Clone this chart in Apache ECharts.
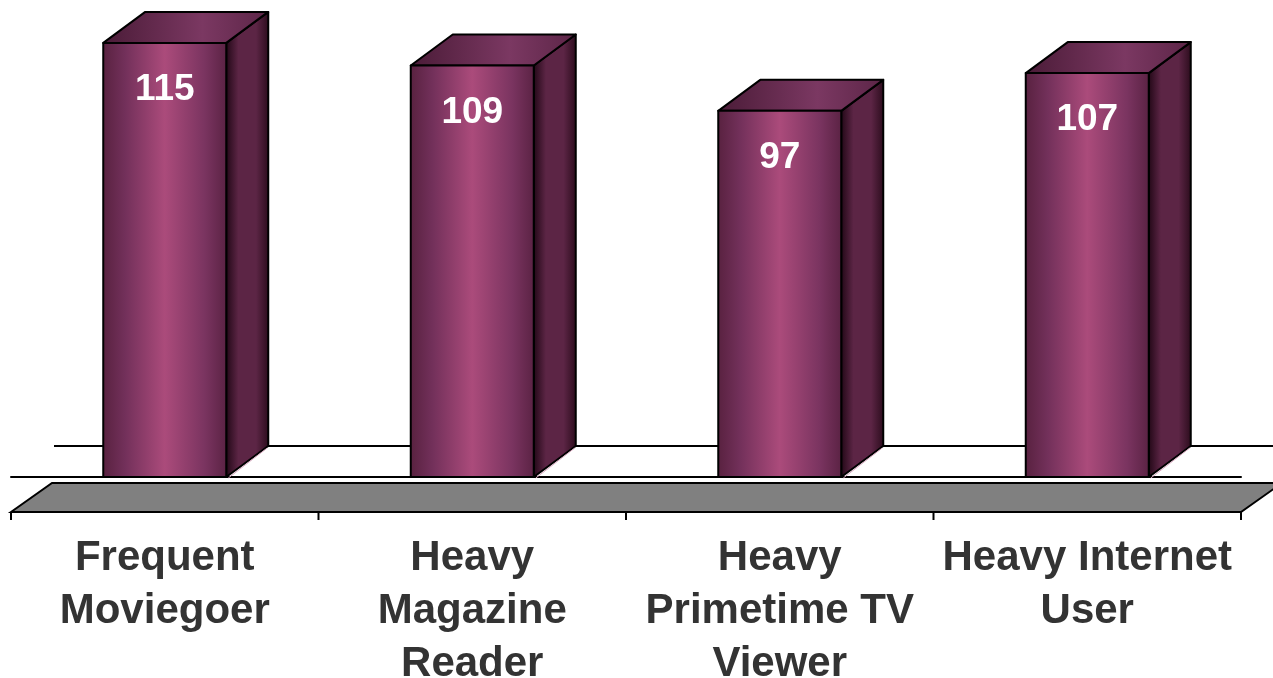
<!DOCTYPE html>
<html>
<head>
<meta charset="utf-8">
<script src="https://cdn.jsdelivr.net/npm/echarts@6/dist/echarts.min.js"></script>
<style>
  html, body { margin: 0; padding: 0; background: #ffffff; }
  #chart { width: 1273px; height: 678px; }
</style>
</head>
<body>
<div id="chart"></div>
<script>
// Audience index by heavy media-user segment
const categories = ['Frequent\nMoviegoer', 'Heavy\nMagazine\nReader', 'Heavy\nPrimetime TV\nViewer', 'Heavy Internet\nUser'];
const values = [115, 109, 97, 107];

const FONT = "'Liberation Sans', Arial, Helvetica, sans-serif";
// oblique depth of the 3D columns and floor
const DX = 42, DY = -31;

const frontFill = { type: 'linear', x: 0, y: 0, x2: 1, y2: 0, colorStops: [
  { offset: 0, color: '#58213f' }, { offset: 0.18, color: '#72305a' },
  { offset: 0.5, color: '#ab4b7b' }, { offset: 0.82, color: '#7a3460' },
  { offset: 1, color: '#5a2243' } ] };
const sideFill = { type: 'linear', x: 0, y: 0, x2: 1, y2: 0, colorStops: [
  { offset: 0, color: '#1f0614' }, { offset: 0.3, color: '#5c2545' },
  { offset: 0.7, color: '#5c2545' }, { offset: 1, color: '#2a0b1b' } ] };
const topFill = { type: 'linear', x: 0, y: 0, x2: 1, y2: 0, colorStops: [
  { offset: 0, color: '#4a1b37' }, { offset: 0.6, color: '#7b3862' },
  { offset: 1, color: '#5c2547' } ] };

function renderBar(params, api) {
  const i = api.value(0), v = api.value(1);
  const base = api.coord([i, 0]);
  const top = api.coord([i, v]);
  const band = api.size([1, 0])[0];
  const w = band * 0.4;
  const x0 = base[0] - w / 2, x1 = base[0] + w / 2;
  const yb = base[1], yt = top[1];
  const edge = { stroke: '#000', lineWidth: 2, lineJoin: 'round' };
  return {
    type: 'group',
    children: [
      { type: 'polygon', shape: { points: [[x1, yb], [x1 + DX, yb + DY], [x1 + DX, yt + DY], [x1, yt]] },
        style: Object.assign({ fill: sideFill }, edge) },
      { type: 'line', shape: { x1: x1 + 2, y1: yb + 1, x2: x1 + DX - 1, y2: yb + DY + 2 },
        style: { stroke: '#d9a9c0', lineWidth: 1 } },
      { type: 'polygon', shape: { points: [[x0, yt], [x0 + DX, yt + DY], [x1 + DX, yt + DY], [x1, yt]] },
        style: Object.assign({ fill: topFill }, edge) },
      { type: 'rect', shape: { x: x0, y: yt, width: w, height: yb - yt },
        style: Object.assign({ fill: frontFill }, edge) },
      { type: 'text', style: { text: String(v), x: base[0], y: yt + 47, align: 'center', verticalAlign: 'middle',
        fill: '#ffffff', font: 'bold 37px ' + FONT } }
    ]
  };
}

function renderFloor(params, api) {
  const n = categories.length;
  const band = api.size([1, 0])[0];
  const c0 = api.coord([0, 0]);
  const cN = api.coord([n - 1, 0]);
  const xl = c0[0] - band / 2, xr = cN[0] + band / 2, y = c0[1];
  const children = [
    { type: 'line', shape: { x1: xl + DX + 1, y1: y + DY, x2: xr + DX + 40, y2: y + DY },
      style: { stroke: '#000', lineWidth: 2 } },
    { type: 'polygon', shape: { points: [[xl, y + 35], [xl + DX - 1, y + 6], [xr + DX - 1, y + 6], [xr, y + 35]] },
      style: { fill: '#808080', stroke: '#000', lineWidth: 2 } }
  ];
  for (let k = 0; k <= n; k++) {
    const x = xl + k * band;
    children.push({ type: 'line', shape: { x1: x, y1: y + 35, x2: x, y2: y + 43 },
      style: { stroke: '#000', lineWidth: 2 } });
  }
  return { type: 'group', children };
}

const chart = echarts.init(document.getElementById('chart'), null, { renderer: 'canvas', width: 1273, height: 678 });
chart.setOption({
  animation: false,
  backgroundColor: '#ffffff',
  grid: { left: 11, right: 32, top: 24, bottom: 201, containLabel: false, outerBoundsMode: 'none' },
  xAxis: {
    type: 'category',
    data: categories,
    boundaryGap: true,
    axisLine: { lineStyle: { color: '#000', width: 2 } },
    axisTick: { length: 8, lineStyle: { color: '#000', width: 2 } },
    axisLabel: { interval: 0, margin: 55, color: '#333333', fontFamily: FONT, fontWeight: 'bold',
      fontSize: 42, lineHeight: 53 },
    splitLine: { show: false }
  },
  yAxis: { type: 'value', min: 0, max: 120, show: false },
  series: [
    { type: 'custom', z: 1, renderItem: renderFloor, data: [[0, 0]], encode: { x: 0, y: 1 }, silent: true },
    { type: 'custom', z: 2, renderItem: renderBar, data: values.map((v, i) => [i, v]), encode: { x: 0, y: 1 } }
  ]
});
</script>
</body>
</html>
